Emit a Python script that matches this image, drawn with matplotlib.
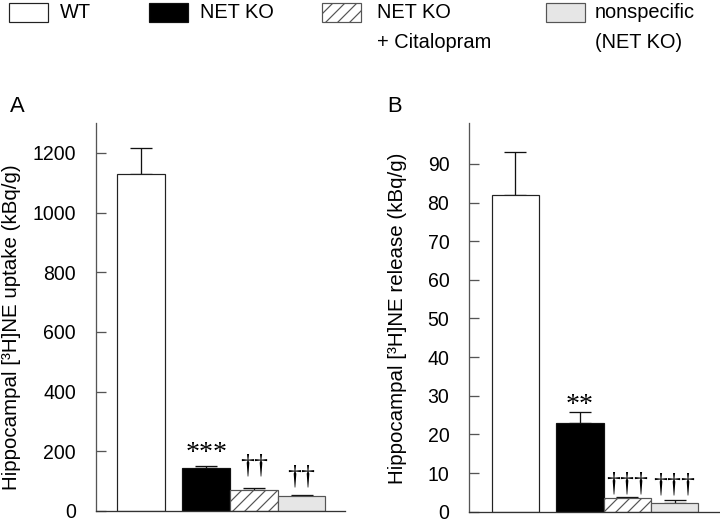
import matplotlib
matplotlib.use("Agg")
import matplotlib.pyplot as plt
from matplotlib.patches import Rectangle

plt.rcParams['font.family'] = ['Liberation Sans', 'DejaVu Sans']
plt.rcParams['hatch.linewidth'] = 1.2

# datos
grupos = ['WT', 'NET KO', 'NET KO\n+ Citalopram', 'nonspecific\n(NET KO)']
uptake = [1130, 143, 70, 51]
uptake_err = [85, 9, 8, 4]
uptake_sig = ['', '***', '††', '††']
release = [82, 23, 3.5, 2.2]
release_err = [11.1, 2.8, 0.4, 0.7]
release_sig = ['', '**', '†††', '†††']

# estilo de cada grupo
caras = ['white', 'black', 'white', '#e6e6e6']
bordes = ['#222222', '#111111', '#555555', '#555555']
tramas = [None, None, '//', None]
xpos = [0, 1.37, 2.37, 3.37]

W, H = 720, 523
fig = plt.figure(figsize=(W/72, H/72), dpi=72)

def panel(rect, vals, errs, sigs, pads, ylim, ticks, ylab, labxy, letra, xlim):
    ax = fig.add_axes(rect)
    for i in range(len(vals)):
        ax.bar(xpos[i], vals[i], width=1, color=caras[i], edgecolor=bordes[i],
               hatch=tramas[i], linewidth=1.2, zorder=2)
        ax.errorbar(xpos[i], vals[i], yerr=[[0], [errs[i]]], fmt='none',
                    ecolor='#111111', elinewidth=1.3, capsize=11, capthick=1.3, zorder=1)
        if sigs[i]:
            ax.annotate(sigs[i], xy=(xpos[i], vals[i] + errs[i]), xytext=(0, pads[i]),
                        textcoords='offset points', ha='center', va='bottom',
                        fontsize=28, family='Liberation Serif')
    ax.set_xlim(*xlim)
    ax.set_ylim(*ylim)
    ax.set_yticks(ticks)
    ax.set_xticks([])
    for s in ['top', 'right']:
        ax.spines[s].set_visible(False)
    ax.spines['left'].set_color('#555555')
    ax.spines['left'].set_linewidth(1.3)
    ax.spines['bottom'].set_color('#333333')
    ax.spines['bottom'].set_linewidth(1.3)
    ax.tick_params(axis='y', direction='in', length=10, width=1.3, color='#555555',
                   labelsize=19.5, pad=20)
    ax.set_ylabel(ylab, fontsize=20.5)
    ax.yaxis.set_label_coords(*labxy)
    ax.text(letra[1], letra[2], letra[0], transform=fig.transFigure, fontsize=22)
    return ax

panel([96/W, 1-511/H, 249/W, 388/H], uptake, uptake_err, uptake_sig, [-3, 0, 9, 5],
      (0, 1300), range(0, 1201, 200), 'Hippocampal [³H]NE uptake (kBq/g)',
      (-0.30, 0.474), ('A', 10/W, 1-112/H), (-0.94, 4.28))
panel([469.3/W, 1-511.7/H, 250.7/W, 388.4/H], release, release_err, release_sig, [-3, -6, 0, 3],
      (0, 100.5), range(0, 91, 10), 'Hippocampal [³H]NE release (kBq/g)',
      (-0.25, 0.499), ('B', 387/W, 1-112/H), (-0.97, 4.33))

# leyenda dibujada a mano (la caja alineada con la primera linea)
caja_x = [9.3, 149, 322, 545.5]
texto_x = [60, 200, 377, 595]
for i in range(len(grupos)):
    fig.add_artist(Rectangle((caja_x[i]/W, 1-22.3/H), 39/W, 19.6/H,
                             transform=fig.transFigure, facecolor=caras[i],
                             edgecolor=bordes[i] if i != 1 else '#111111',
                             hatch=tramas[i], linewidth=1.2))
    fig.text(texto_x[i]/W, 1-3.5/H, grupos[i], fontsize=20, va='top',
             linespacing=1.7)

fig.savefig('out.png', dpi=72)
